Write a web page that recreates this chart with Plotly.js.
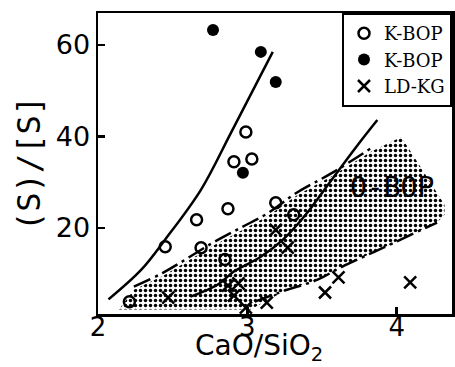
<!DOCTYPE html>
<html>
<head>
<meta charset="utf-8">
<script src="https://cdn.plot.ly/plotly-3.0.1.min.js"></script>
<style>html,body{margin:0;padding:0;background:#fff;}#chart{width:455px;height:367px;}</style>
</head>
<body>
<div id="chart"></div>
<script>
// K-BOP (open circles)
const openX = [2.21, 2.45, 2.66, 2.69, 2.85, 2.87, 2.91, 2.99, 3.03, 3.19, 3.31];
const openY = [3.9, 15.9, 21.8, 15.7, 13.1, 24.2, 34.5, 41.0, 35.1, 25.5, 22.9];
// K-BOP (filled circles)
const filledX = [2.77, 3.09, 3.19, 2.97];
const filledY = [63.3, 58.5, 51.9, 32.1];
// LD-KG (crosses)
const crossX = [2.47, 2.87, 2.94, 2.91, 2.99, 3.13, 3.19, 3.27, 3.52, 3.61, 4.09];
const crossY = [4.8, 7.4, 7.9, 5.2, 2.6, 3.7, 19.6, 15.7, 5.9, 9.2, 8.1];
// trend curves
const kbopCurveX = [2.07, 2.29, 2.45, 2.69, 2.89, 3.17];
const kbopCurveY = [4.4, 10.9, 17.5, 28.4, 40.8, 58.5];
const ldCurveX = [2.62, 2.80, 2.91, 3.09, 3.24, 3.39, 3.55, 3.74, 3.87];
const ldCurveY = [5.0, 7.6, 10.5, 13.7, 17.5, 22.9, 29.9, 38.2, 43.6];
const upperBandX = [2.24, 2.44, 2.77, 2.97, 3.14, 3.33, 3.57, 3.83];
const upperBandY = [7.2, 10.3, 16.8, 20.3, 23.3, 27.7, 32.1, 37.5];
const lowerBandX = [3.05, 3.25, 3.47, 3.62, 3.91, 4.27];
const lowerBandY = [3.9, 6.3, 8.7, 11.3, 15.7, 21.2];
// Q-BOP shaded region outline
const shadeX = [2.14, 2.24, 2.44, 2.77, 2.97, 3.14, 3.33, 3.57, 3.83, 4.03, 4.15, 4.32, 4.32, 4.27, 3.91, 3.62, 3.47, 3.25, 3.15, 3.02];
const shadeY = [2.2, 6.5, 9.6, 16.1, 19.6, 22.7, 27.1, 31.4, 36.7, 39.9, 33.8, 25.1, 22.9, 21.2, 15.7, 11.3, 8.7, 6.3, 4.4, 2.2];
// labels
const legendNames = ['K-BOP', 'K-BOP', 'LD-KG'];
const regionLabel = 'O-BOP';
const xTitle = 'CaO/SiO<sub>2</sub>';
const yTitle = '(S)/[S]';
const xTicks = [2, 3, 4];
const yTicks = [20, 40, 60];

const lineStyle = {color: '#000', width: 2.5};
const dashDot = {color: '#000', width: 2.5, dash: '18px,5px,3px,5px'};
const tickFont = {family: 'DejaVu Sans, sans-serif', size: 27, color: '#000'};

const traces = [
  {x: shadeX, y: shadeY, mode: 'lines', fill: 'toself', showlegend: false, hoverinfo: 'skip',
   line: {width: 0, color: 'rgba(0,0,0,0)'}, fillcolor: 'rgba(0,0,0,0)',
   fillpattern: {shape: '.', size: 5, solidity: 0.38, fgcolor: '#000', bgcolor: 'rgba(255,255,255,0)'}},
  {x: kbopCurveX, y: kbopCurveY, mode: 'lines', line: Object.assign({shape: 'spline'}, lineStyle), showlegend: false},
  {x: ldCurveX, y: ldCurveY, mode: 'lines', line: Object.assign({shape: 'spline'}, lineStyle), showlegend: false},
  {x: upperBandX, y: upperBandY, mode: 'lines', line: Object.assign({shape: 'spline'}, dashDot), showlegend: false},
  {x: lowerBandX, y: lowerBandY, mode: 'lines', line: Object.assign({shape: 'spline'}, dashDot), showlegend: false},
  {x: openX, y: openY, mode: 'markers', name: legendNames[0],
   marker: {symbol: 'circle-open', size: 11, color: '#000', line: {width: 2.5, color: '#000'}}},
  {x: filledX, y: filledY, mode: 'markers', name: legendNames[1],
   marker: {symbol: 'circle', size: 12, color: '#000'}},
  {x: crossX, y: crossY, mode: 'markers', name: legendNames[2],
   marker: {symbol: 'x-thin-open', size: 12, color: '#000', line: {width: 2.5, color: '#000'}}}
];

const layout = {
  width: 455, height: 367,
  margin: {l: 98, r: 3, t: 13, b: 53},
  paper_bgcolor: '#fff', plot_bgcolor: '#fff',
  showlegend: true,
  legend: {x: 1, xanchor: 'right', y: 1, yanchor: 'top', bgcolor: '#fff',
    bordercolor: '#000', borderwidth: 2,
    font: {family: 'DejaVu Serif, serif', size: 18, color: '#000'},
    itemwidth: 30, tracegroupgap: 0},
  xaxis: {range: [2, 4.37], tickvals: xTicks, ticktext: xTicks.map(String),
    ticks: 'inside', ticklen: 7, tickwidth: 2.5, tickcolor: '#000',
    showline: true, linewidth: 2.5, linecolor: '#000', mirror: true,
    showgrid: false, zeroline: false, ticklabelstandoff: -12,
    tickfont: {family: 'DejaVu Sans, sans-serif', size: 26, color: '#000'}},
  yaxis: {range: [1.2, 67], tickvals: yTicks, ticktext: yTicks.map(String),
    ticks: 'inside', ticklen: 7, tickwidth: 2.5, tickcolor: '#000',
    showline: true, linewidth: 2.5, linecolor: '#000', mirror: true,
    showgrid: false, zeroline: false,
    tickfont: tickFont,
    title: {text: yTitle, standoff: 6,
      font: {family: 'DejaVu Sans Mono, monospace', size: 32, color: '#000'}}},
  annotations: [
    {x: 3.97, y: 28.8, xref: 'x', yref: 'y', text: regionLabel, showarrow: false,
     font: {family: 'DejaVu Sans Mono, monospace', size: 28, color: '#000'}},
    {x: 0.455, y: -0.176, xref: 'paper', yref: 'paper', xanchor: 'center', yanchor: 'bottom',
     text: xTitle, showarrow: false, borderpad: 0,
     font: {family: 'DejaVu Sans, sans-serif', size: 28, color: '#000'}}
  ]
};

Plotly.newPlot('chart', traces, layout, {displayModeBar: false, staticPlot: true});
</script>
</body>
</html>
